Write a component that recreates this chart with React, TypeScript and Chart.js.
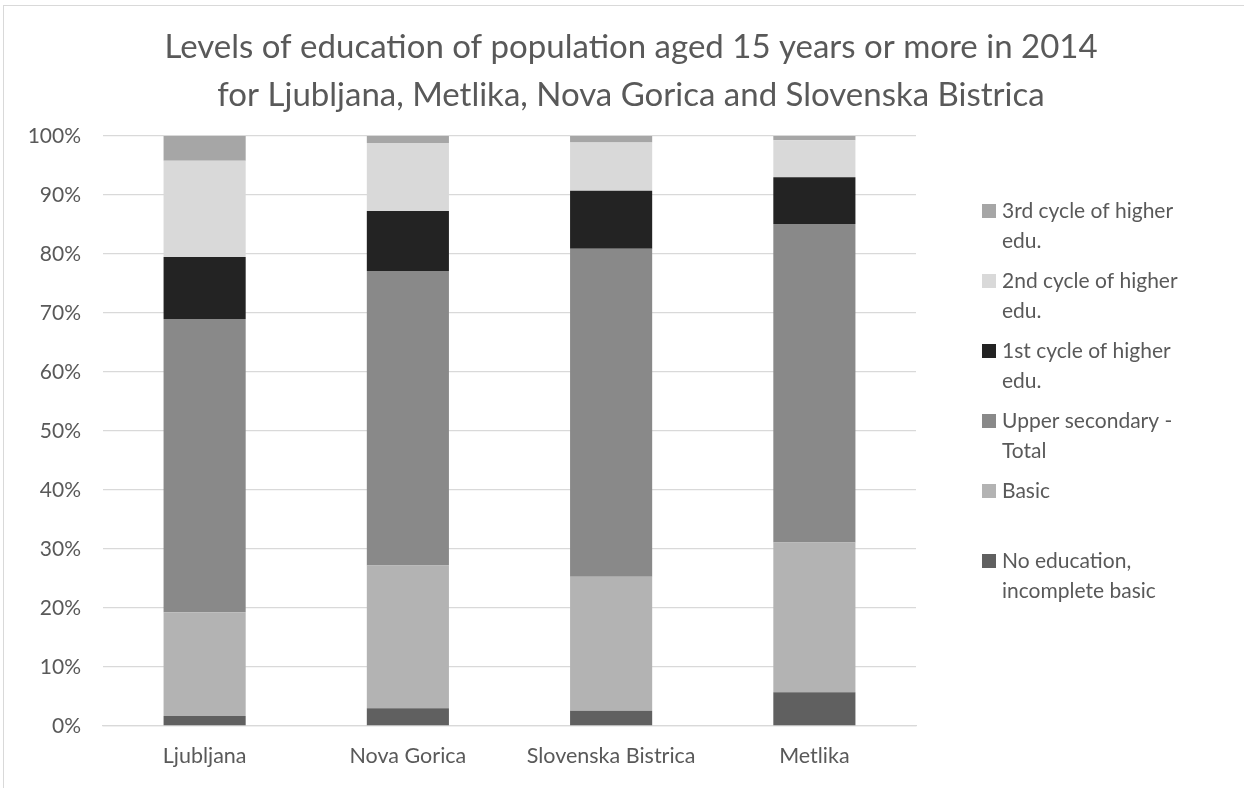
import React, { useEffect, useRef } from "react";
import { Chart, registerables } from "chart.js";

Chart.register(...registerables);

const categories = ["Ljubljana", "Nova Gorica", "Slovenska Bistrica", "Metlika"];
const seriesNames = [
  "No education, incomplete basic",
  "Basic",
  "Upper secondary - Total",
  "1st cycle of higher edu.",
  "2nd cycle of higher edu.",
  "3rd cycle of higher edu.",
];
const noEducation = [1.7, 3.0, 2.6, 5.7];
const basic = [17.6, 24.2, 22.7, 25.4];
const upperSecondary = [49.7, 49.9, 55.6, 54.0];
const firstCycle = [10.5, 10.2, 9.8, 7.9];
const secondCycle = [16.3, 11.5, 8.2, 6.3];
const thirdCycle = [4.2, 1.2, 1.1, 0.7];
const seriesColors = ["#606060", "#b3b3b3", "#898989", "#232323", "#d9d9d9", "#a6a6a6"];
const titleLines = [
  "Levels of education of population aged 15 years or more in 2014",
  "for Ljubljana, Metlika, Nova Gorica and Slovenska Bistrica",
];
const yTicks = [0, 10, 20, 30, 40, 50, 60, 70, 80, 90, 100];

const FONT = "Lato, 'Open Sans', sans-serif";
const TEXT = "#595959";

function wrap(ctx: CanvasRenderingContext2D, text: string, maxW: number): string[] {
  const words = text.split(" ");
  const lines: string[] = [];
  let cur = "";
  for (const w of words) {
    const t = cur ? cur + " " + w : w;
    if (ctx.measureText(t).width > maxW && cur) {
      lines.push(cur);
      cur = w;
    } else cur = t;
  }
  if (cur) lines.push(cur);
  return lines;
}

const decorPlugin = {
  id: "decor",
  afterDraw(chart: any) {
    const ctx = chart.ctx as CanvasRenderingContext2D;
    ctx.save();
    // title
    ctx.fillStyle = TEXT;
    ctx.font = `33px ${FONT}`;
    ctx.textAlign = "center";
    ctx.textBaseline = "middle";
    titleLines.forEach((l, i) => ctx.fillText(l, 627, 41 + i * 48));
    // legend
    ctx.font = `21px ${FONT}`;
    ctx.textAlign = "left";
    const ds = chart.data.datasets;
    for (let k = 0; k < ds.length; k++) {
      const d = ds[ds.length - 1 - k];
      const cy = 205 + k * 70;
      ctx.fillStyle = d.backgroundColor;
      ctx.fillRect(978, cy - 7, 14, 14);
      ctx.fillStyle = TEXT;
      const lines = wrap(ctx, d.label, 198);
      lines.forEach((l, j) => ctx.fillText(l, 998, cy + j * 30));
    }
    ctx.restore();
  },
};

export default function App() {
  const ref = useRef<HTMLCanvasElement>(null);
  useEffect(() => {
    const values = [noEducation, basic, upperSecondary, firstCycle, secondCycle, thirdCycle];
    const chart = new Chart(ref.current!, {
      type: "bar",
      data: {
        labels: categories,
        datasets: seriesNames.map((name, i) => ({
          label: name,
          data: values[i],
          backgroundColor: seriesColors[i],
          borderWidth: 0,
          categoryPercentage: 1,
          barPercentage: 0.404,
        })),
      },
      options: {
        animation: false,
        responsive: false,
        maintainAspectRatio: false,
        layout: { padding: { left: 0, top: 130, right: 328, bottom: 0 } },
        plugins: {
          legend: { display: false },
          title: { display: false },
          tooltip: { enabled: false },
        },
        scales: {
          x: {
            stacked: true,
            grid: { display: false, drawTicks: false },
            border: { display: true, color: "#d9d9d9", width: 1.3 },
            ticks: { color: TEXT, font: { family: FONT, size: 21.5 }, padding: 17 },
            afterFit: (s: any) => {
              s.height = 62;
            },
          },
          y: {
            stacked: true,
            min: 0,
            max: 100,
            afterBuildTicks: (s: any) => {
              s.ticks = yTicks.map((v) => ({ value: v }));
            },
            grid: { color: "#d9d9d9", lineWidth: 1.3, drawTicks: false },
            border: { display: false },
            ticks: {
              color: TEXT,
              font: { family: FONT, size: 21 },
              padding: 22,
              callback: (v: any) => v + "%",
            },
            afterFit: (s: any) => {
              s.width = 99;
            },
          },
        },
      },
      plugins: [decorPlugin],
    });
    return () => chart.destroy();
  }, []);
  return (
    <div
      style={{
        position: "fixed",
        left: 0,
        top: 0,
        width: 1244,
        height: 788,
        overflow: "hidden",
        background: "#fff",
      }}
    >
      <div
        style={{
          position: "absolute",
          left: 3,
          top: 5,
          width: 1260,
          height: 800,
          borderLeft: "1px solid #d9d9d9",
          borderTop: "1px solid #d9d9d9",
        }}
      >
        <canvas ref={ref} width={1240} height={782} style={{ display: "block", width: 1240, height: 782 }} />
      </div>
    </div>
  );
}
